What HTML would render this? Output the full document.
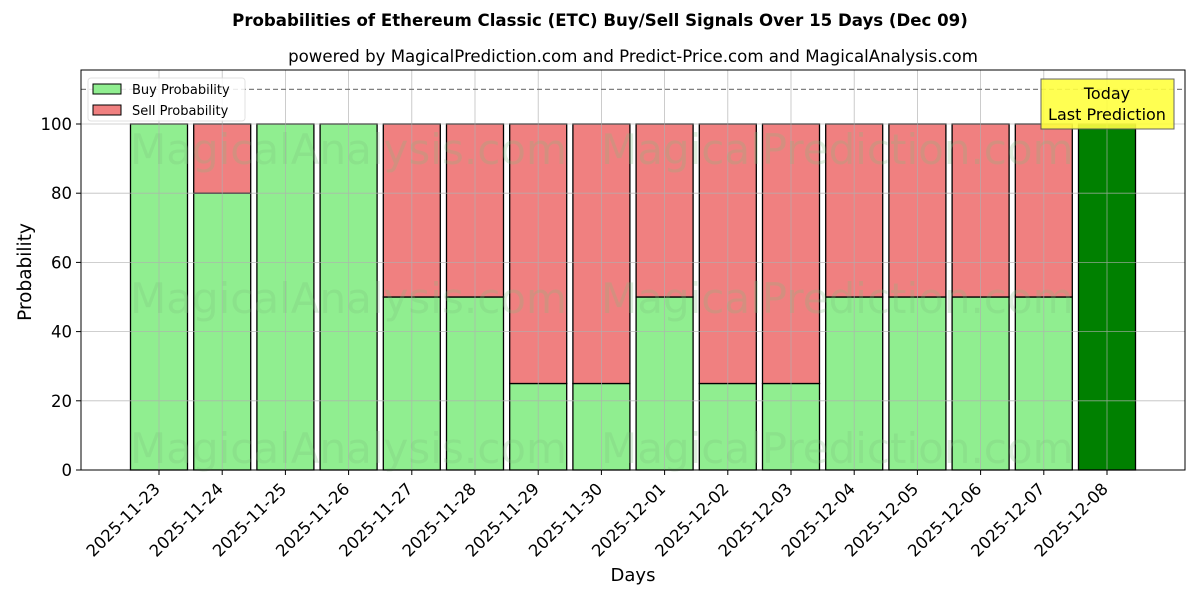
<!DOCTYPE html>
<html><head><meta charset="utf-8"><style>
html,body{margin:0;padding:0;background:#fff;}
svg{display:block;font-family:"DejaVu Sans","Liberation Sans",sans-serif;}
</style></head><body>
<svg width="1200" height="600" viewBox="0 0 1200 600" xmlns="http://www.w3.org/2000/svg">
<rect width="1200" height="600" fill="#fff"/>
<text x="600" y="26" text-anchor="middle" font-size="16.6" font-weight="bold">Probabilities of Ethereum Classic (ETC) Buy/Sell Signals Over 15 Days (Dec 09)</text>
<text x="633" y="62" text-anchor="middle" font-size="16.6">powered by MagicalPrediction.com and Predict-Price.com and MagicalAnalysis.com</text>
<g id="bars" stroke="#000" stroke-width="1.3"></g>
<g id="grid" stroke="#b0b0b0" stroke-width="0.8" opacity="0.8"></g>
<g font-size="42" fill="#7fbf7f" opacity="0.25">
<text x="130" y="164">MagicalAnalysis.com</text><text x="601" y="164">MagicalPrediction.com</text>
<text x="130" y="313">MagicalAnalysis.com</text><text x="601" y="313">MagicalPrediction.com</text>
<text x="130" y="463">MagicalAnalysis.com</text><text x="601" y="463">MagicalPrediction.com</text>
</g>
<line x1="81" y1="89.4" x2="1185" y2="89.4" stroke="#808080" stroke-width="1.3" stroke-dasharray="5,3"/>
<rect x="81" y="70" width="1104" height="400" fill="none" stroke="#000" stroke-width="1"/>
<g id="ticks"></g>
<text x="633" y="581" text-anchor="middle" font-size="18">Days</text>
<text transform="translate(31,272) rotate(-90)" text-anchor="middle" font-size="18.5">Probability</text>
<g>
<rect x="88" y="78" width="157" height="43" fill="#fff" stroke="#ddd" rx="3" opacity="0.85"/>
<rect x="93" y="84" width="28" height="10" fill="#90ee90" stroke="#000"/>
<text x="132" y="94" font-size="13">Buy Probability</text>
<rect x="93" y="105" width="28" height="10" fill="#f08080" stroke="#000"/>
<text x="132" y="115" font-size="13">Sell Probability</text>
</g>
<rect x="1041" y="79" width="133" height="50" fill="#ffff40" stroke="#555" opacity="0.9"/>
<text x="1107" y="99" text-anchor="middle" font-size="16">Today</text>
<text x="1107" y="120" text-anchor="middle" font-size="16">Last Prediction</text>
</svg>
<script>
var ns="http://www.w3.org/2000/svg";
function el(p,t,a,txt){var e=document.createElementNS(ns,t);for(var k in a)e.setAttribute(k,a[k]);if(txt!==undefined)e.textContent=txt;p.appendChild(e);return e;}
var buy=[100,80,100,100,50,50,25,25,50,25,25,50,50,50,50,100];
var dates=["2025-11-23","2025-11-24","2025-11-25","2025-11-26","2025-11-27","2025-11-28","2025-11-29","2025-11-30","2025-12-01","2025-12-02","2025-12-03","2025-12-04","2025-12-05","2025-12-06","2025-12-07","2025-12-08"];
function Y(v){return 470-3.46*v;}
var bars=document.getElementById("bars"),grid=document.getElementById("grid"),ticks=document.getElementById("ticks");
for(var i=0;i<16;i++){var cx=159+63.2*i,x=cx-28.5;
 if(i==15){el(bars,"rect",{x:x,y:Y(100),width:57,height:346,fill:"#008000"});}
 else{el(bars,"rect",{x:x,y:Y(buy[i]),width:57,height:3.46*buy[i],fill:"#90ee90"});
  if(buy[i]<100)el(bars,"rect",{x:x,y:Y(100),width:57,height:3.46*(100-buy[i]),fill:"#f08080"});}
 el(grid,"line",{x1:cx,y1:70,x2:cx,y2:470});
 el(ticks,"line",{x1:cx,y1:470,x2:cx,y2:475,stroke:"#000"});
 var tx=cx+2,ty=490;
 el(ticks,"text",{x:tx,y:ty,"text-anchor":"end","font-size":"16.5",transform:"rotate(-45 "+tx+" "+ty+")"},dates[i]);
}
for(var v=0;v<=100;v+=20){var y=Y(v);el(grid,"line",{x1:81,y1:y,x2:1185,y2:y});
 el(ticks,"line",{x1:76,y1:y,x2:81,y2:y,stroke:"#000"});
 el(ticks,"text",{x:72,y:y+6,"text-anchor":"end","font-size":"16.5"},v);}
</script>
</body></html>
